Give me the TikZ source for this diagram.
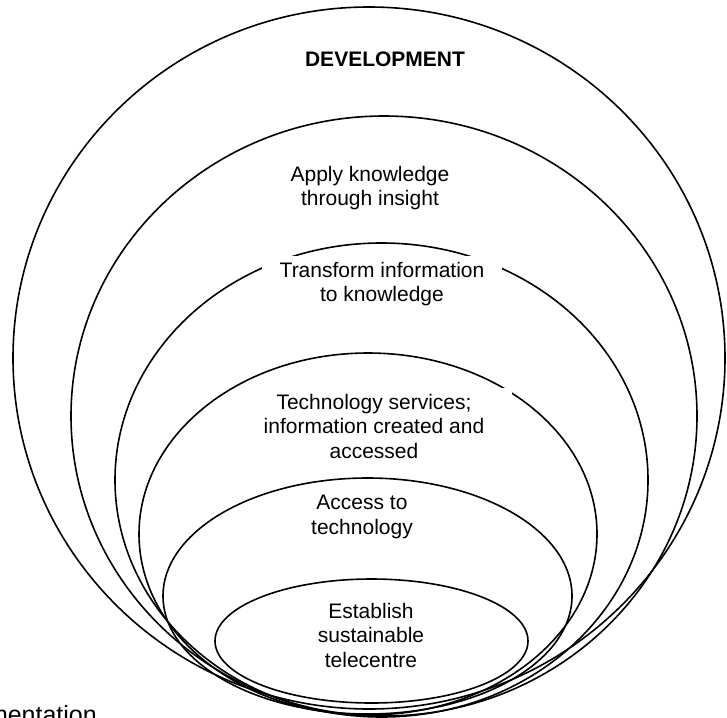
\documentclass[tikz,border=0pt]{standalone}
\usepackage{fontspec}
\setsansfont{Liberation Sans}
\usetikzlibrary{shapes.geometric}

\tikzset{
    ring/.style={ellipse, draw=black, line width=1.6pt, inner sep=0pt, outer sep=0pt},
    stageText/.style={
        font=\sffamily\fontsize{21}{24.5}\selectfont,
        align=center,
        inner sep=0pt
    },
    % white box that breaks the ring line behind a label
    cutout/.style={fill=white, inner xsep=18pt, inner ysep=6pt},
    titleText/.style={font=\sffamily\bfseries\fontsize{21}{25}\selectfont},
    captionText/.style={font=\sffamily\fontsize{25}{30}\selectfont, inner sep=0pt}
}

\begin{document}
\begin{tikzpicture}[x=1pt, y=-1pt]
\useasboundingbox (0,0) rectangle (727,717);
\clip (0,0) rectangle (727,717);

% --- Nested stages, outermost first ---
\foreach \name/\cx/\cy/\rx/\ry in {
    dev/369/358/356/351,
    apply/384/416/313/300,
    transform/381.5/480/266.5/237,
    services/368/534/229/181,
    access/367.5/596/204.5/118,
    establish/371.5/641/156.5/62
}{
    \node[ring, minimum width=2*\rx, minimum height=2*\ry] (\name) at (\cx,\cy) {};
}

% --- Stage labels ---
\node[titleText] (devLabel) at (385,59) {DEVELOPMENT};
\node[stageText] (applyLabel) at (370,188) {Apply knowledge\\through insight};
\node[stageText, cutout] (transformLabel) at (382,284) {Transform information\\to knowledge};
\node[stageText, cutout, inner xsep=28pt] (servicesLabel) at (374,426) {Technology services;\\information created and\\accessed};
\node[stageText] (accessLabel) at (362,517) {Access to\\technology};
\node[stageText] (establishLabel) at (371,635) {Establish\\sustainable\\telecentre};

% caption running off the lower edge
\node[captionText, anchor=base east] (caption) at (97,723) {mentation};

\end{tikzpicture}
\end{document}
